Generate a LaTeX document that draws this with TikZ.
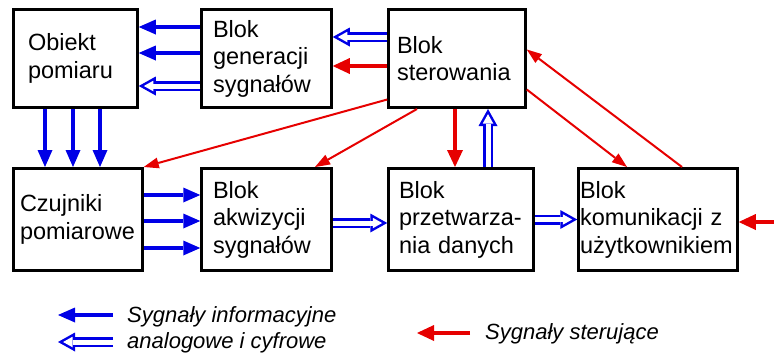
\documentclass[tikz,border=0pt]{standalone}
\usepackage{fontspec}
\setmainfont{Liberation Sans}
\usetikzlibrary{arrows.meta}
\definecolor{sigblue}{RGB}{0,0,230}
\definecolor{sigred}{RGB}{230,0,0}

\begin{document}
\begin{tikzpicture}[x=1pt, y=-1pt,
  box/.style={draw, line width=3pt, align=left, inner xsep=0pt, minimum height=98pt, font=\fontsize{23.5}{27.5}\selectfont},
  info/.style={sigblue, line width=4pt, -{Triangle[length=17pt,width=15pt,line width'=0pt]}},
  hollow/.style={white, line width=5pt, shorten >=5.1pt, -{Triangle[length=9.4pt,width=10.5pt,line width'=0pt]},
    preaction={draw=sigblue, line width=10pt, shorten >=0pt, -{Triangle[length=17pt,width=19pt,line width'=0pt]}}},
  ctrl/.style={sigred, line width=4pt, -{Triangle[length=17pt,width=16pt,line width'=0pt]}},
  ctrlthin/.style={sigred, line width=2pt, -{Triangle[length=15pt,width=11pt,line width'=0pt]}},
  legend/.style={anchor=west, inner sep=0pt, font=\fontsize{22}{27}\selectfont\itshape}
]
\useasboundingbox (0,0) rectangle (774,354);

% blocks
\node[box, minimum width=123.5pt, text width=95pt] (obj) at (75.5,58.5) {Obiekt\\pomiaru};
\node[box, minimum width=129.5pt, text width=107pt] (gen) at (266.5,58.5) {Blok\\generacji\\sygnałów};
\node[box, minimum width=136.5pt, text width=120pt] (ster) at (457,58.5) {Blok\\sterowania};
\node[box, minimum width=128.5pt, minimum height=102pt, text width=116pt] (czu) at (78,219.5) {Czujniki\\pomiarowe};
\node[box, minimum width=129.5pt, minimum height=102pt, text width=107pt] (akw) at (266.5,219.5) {Blok\\akwizycji\\sygnałów};
\node[box, minimum width=144.5pt, minimum height=102pt, text width=124pt] (prz) at (461,219.5) {Blok\\\mbox{przetwarza-}\\nia danych};
\node[box, minimum width=158.5pt, minimum height=102pt, text width=156pt] (kom) at (658,219.5) {Blok\\komunikacji z\\użytkownikiem};

% information signals
\draw[info] ([yshift=31.5pt]gen.west) -- ([yshift=31.5pt]obj.east);
\draw[info] ([yshift=5.5pt]gen.west) -- ([yshift=5.5pt]obj.east);
\draw[hollow] ([yshift=-27.5pt]gen.west) -- ([yshift=-27.5pt]obj.east);
\draw[hollow] ([yshift=21.5pt]ster.west) -- ([yshift=21.5pt]gen.east);
\foreach \a/\b in {-30.5/-33, -2.5/-5, 24.5/22}
  \draw[info] ([xshift=\a pt]obj.south) -- ([xshift=\b pt]czu.north);
\foreach \s in {24.5, -1.5, -28.5}
  \draw[info] ([yshift=\s pt]czu.east) -- ([yshift=\s pt]akw.west);
\draw[hollow] ([yshift=-3.5pt]akw.east) -- ([yshift=-3.5pt]prz.west);
\draw[hollow] (prz.east) -- (kom.west);
\draw[hollow] ([xshift=27pt]prz.north) -- ([xshift=31pt]ster.south);

% control signals
\draw[ctrl] ([yshift=-7.5pt]ster.west) -- ([yshift=-7.5pt]gen.east);
\draw[ctrl] ([xshift=-2pt]ster.south) -- ([xshift=-6pt]prz.north);
\coordinate (ext) at (774,222);
\draw[ctrl] (ext) -- ([yshift=-2.5pt]kom.east);
\draw[ctrlthin] ([yshift=-41pt]ster.west) -- (czu.north east);
\draw[ctrlthin] ([xshift=-40pt]ster.south) -- ([xshift=48.5pt]akw.north);
\draw[ctrlthin] ([yshift=-31pt]ster.east) -- ([xshift=-31pt]kom.north);
\draw[ctrlthin] ([xshift=24pt]kom.north) -- ([yshift=9pt]ster.east);

% legend
\coordinate (infoA) at (113,315);
\coordinate (infoB) at (58,315);
\coordinate (anaA) at (113,342);
\coordinate (anaB) at (58,342);
\coordinate (ctrlA) at (470,333);
\coordinate (ctrlB) at (417,333);
\draw[info] (infoA) -- (infoB);
\draw[hollow] (anaA) -- (anaB);
\draw[ctrl] (ctrlA) -- (ctrlB);
\node[legend] (leginfo) at (127,317) {Sygnały informacyjne};
\node[legend] (legana) at (127,343) {analogowe i cyfrowe};
\node[legend] (legctrl) at (485,334) {Sygnały sterujące};
\end{tikzpicture}
\end{document}
